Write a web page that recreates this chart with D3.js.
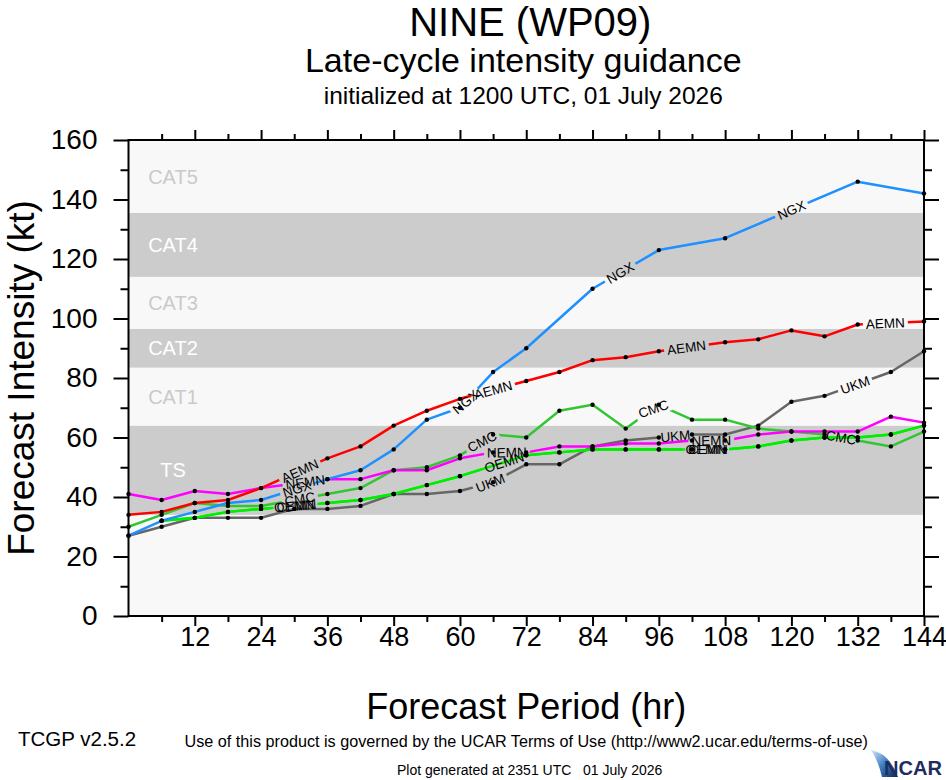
<!DOCTYPE html>
<html>
<head>
<meta charset="utf-8">
<script src="https://cdn.jsdelivr.net/npm/d3@7"></script>
<style>
  body { margin: 0; background: #fff; }
  text { font-family: "Liberation Sans", Arial, Helvetica, sans-serif; }
</style>
</head>
<body>
<script>
var width = 946,
    height = 780;

// forecast hours and model intensities (kt); null = no point at that hour
var hours = [0,6,12,18,24,30,36,42,48,54,60,66,72,78,84,90,96,102,108,114,120,126,132,138,144];

var ukm  = [27,30,33,33,33,36,36,37,41,41,42,45,51,51,57,59,60,61,61,64,72,74,null,82,89];
var cmc  = [30,34,38,37,37,null,41,43,49,50,54,61,60,69,71,63,71,66,66,63,62,61,59,57,62];
var cemn = [null,32,33,35,36,null,38,39,41,44,47,null,54,55,56,56,56,56,56,57,59,60,60,61,64];
var oemn = [null,32,33,35,36,null,38,39,41,44,47,null,54,55,56,56,56,56,56,57,59,60,60,61,64];
var nemn = [41,39,42,41,43,null,46,46,49,49,53,55,55,57,57,58,58,59,59,61,62,62,62,67,65];
var aemn = [34,35,38,39,43,null,53,57,64,69,73,null,79,82,86,87,89,null,92,93,96,94,98,null,99];
var ngx  = [27,32,35,38,39,null,46,49,56,66,70,82,90,null,110,null,123,null,127,null,null,null,146,null,142];

var modelNames  = ["UKM","CMC","CEMN","OEMN","NEMN","AEMN","NGX"];
var modelValues = [ukm, cmc, cemn, oemn, nemn, aemn, ngx];
var modelColors = ["#666666","#33c633","#00ee00","#00ee00","#ff00ff","#ff0000","#1e90ff"];
// hours where the in-line model labels sit
var labelHours  = [[65.5,99,131.5],[31,64,95,129],[30.4,104.9],[30,68,104.5],[32,68.5,105.5],[31,66,101,137],[30.5,61,89,120]];

// intensity categories
var bandNames = ["TS","CAT1","CAT2","CAT3","CAT4","CAT5"];
var bandLow   = [34, 64, 83.5, 96.5, 114, 135.5];
var bandHigh  = [64, 83.5, 96.5, 114, 135.5, 160];

var yMajor = [0,20,40,60,80,100,120,140,160],
    yMinor = [10,30,50,70,90,110,130,150],
    xMajor = [12,24,36,48,60,72,84,96,108,120,132,144],
    xMinor = [6,18,30,42,54,66,78,90,102,114,126,138];

var x = d3.scaleLinear().domain([0,144]).range([128.5, 924]);
var y = d3.scaleLinear().domain([0,160]).range([616, 140]);

var svg = d3.select("body").append("svg")
    .attr("width", width)
    .attr("height", height);

// background + category bands
svg.append("rect")
    .attr("x", x(0)).attr("y", y(160))
    .attr("width", x(144) - x(0)).attr("height", y(0) - y(160))
    .attr("fill", "#f8f8f8");

bandNames.forEach(function(name, i) {
  var grey = (i % 2 == 0);
  svg.append("rect")
      .attr("x", x(0)).attr("y", y(bandHigh[i]))
      .attr("width", x(144) - x(0))
      .attr("height", y(bandLow[i]) - y(bandHigh[i]))
      .attr("fill", grey ? "#cccccc" : "#f8f8f8");
  svg.append("text")
      .attr("x", 173)
      .attr("y", y((bandLow[i] + bandHigh[i]) / 2))
      .attr("dy", "0.36em")
      .attr("text-anchor", "middle")
      .attr("font-size", 20)
      .attr("fill", grey ? "#ffffff" : "#cacaca")
      .text(name);
});

// axes (outward ticks on all four sides)
function styleAxis(g, fs) {
  g.select(".domain").remove();
  g.selectAll(".tick line").attr("stroke", "#000").attr("stroke-width", 2);
  g.attr("font-size", fs).attr("font-family", "Liberation Sans, Arial, sans-serif");
  g.selectAll("text").attr("fill", "#000");
}

svg.append("g").attr("transform", "translate(" + x(0) + ",0)")
    .call(d3.axisLeft(y).tickValues(yMajor).tickSize(15).tickPadding(16).tickFormat(d3.format("d")))
    .call(styleAxis, 28);
svg.append("g").attr("transform", "translate(" + x(0) + ",0)")
    .call(d3.axisLeft(y).tickValues(yMinor).tickSize(8).tickFormat(""))
    .call(styleAxis, 10);
svg.append("g").attr("transform", "translate(" + x(144) + ",0)")
    .call(d3.axisRight(y).tickValues(yMajor).tickSize(15).tickFormat(""))
    .call(styleAxis, 10);
svg.append("g").attr("transform", "translate(" + x(144) + ",0)")
    .call(d3.axisRight(y).tickValues(yMinor).tickSize(8).tickFormat(""))
    .call(styleAxis, 10);

svg.append("g").attr("transform", "translate(0," + y(0) + ")")
    .call(d3.axisBottom(x).tickValues(xMajor).tickSize(10).tickPadding(1).tickFormat(d3.format("d")))
    .call(styleAxis, 27);
svg.append("g").attr("transform", "translate(0," + y(0) + ")")
    .call(d3.axisBottom(x).tickValues(xMinor).tickSize(6).tickFormat(""))
    .call(styleAxis, 10);
svg.append("g").attr("transform", "translate(0," + y(160) + ")")
    .call(d3.axisTop(x).tickValues(xMajor).tickSize(10).tickFormat(""))
    .call(styleAxis, 10);
svg.append("g").attr("transform", "translate(0," + y(160) + ")")
    .call(d3.axisTop(x).tickValues(xMinor).tickSize(6).tickFormat(""))
    .call(styleAxis, 10);

// model lines
var line = d3.line()
    .x(function(d) { return x(d[0]); })
    .y(function(d) { return y(d[1]); });

function pointsOf(vals) {
  var pts = [];
  vals.forEach(function(v, i) { if (v != null) pts.push([hours[i], v]); });
  return pts;
}

// pixel position along a series at hour h
function along(pts, h) {
  h = Math.max(pts[0][0], Math.min(pts[pts.length - 1][0], h));
  for (var i = 0; i < pts.length - 1; i++) {
    if (h <= pts[i + 1][0]) {
      var t = (h - pts[i][0]) / (pts[i + 1][0] - pts[i][0]);
      var v = pts[i][1] + t * (pts[i + 1][1] - pts[i][1]);
      return [x(h), y(v)];
    }
  }
  return [x(pts[pts.length - 1][0]), y(pts[pts.length - 1][1])];
}

var defs = svg.append("defs");
var measure = svg.append("text").attr("font-size", 13.5).attr("opacity", 0);

var labelLayer = [], dotLayer = [];

modelNames.forEach(function(name, m) {
  var pts = pointsOf(modelValues[m]);
  measure.text(name);
  var tw = measure.node().getComputedTextLength();

  var mask = defs.append("mask")
      .attr("id", "gap" + m)
      .attr("maskUnits", "userSpaceOnUse")
      .attr("x", 0).attr("y", 0).attr("width", width).attr("height", height);
  mask.append("rect").attr("width", width).attr("height", height).attr("fill", "#fff");

  labelHours[m].forEach(function(h) {
    var p = along(pts, h),
        a = along(pts, h - 3),
        b = along(pts, h + 3);
    var ang = Math.atan2(b[1] - a[1], b[0] - a[0]) * 180 / Math.PI;
    var tr = "translate(" + p[0] + "," + p[1] + ") rotate(" + ang + ")";
    mask.append("rect")
        .attr("transform", tr)
        .attr("x", -tw / 2 - 3).attr("y", -7)
        .attr("width", tw + 6).attr("height", 14)
        .attr("fill", "#000");
    labelLayer.push({name: name, tr: tr});
  });

  svg.append("path")
      .datum(pts)
      .attr("fill", "none")
      .attr("stroke", modelColors[m])
      .attr("stroke-width", 2.5)
      .attr("stroke-linejoin", "round")
      .attr("mask", "url(#gap" + m + ")")
      .attr("d", line);

  pts.forEach(function(d) { dotLayer.push(d); });
});
measure.remove();

svg.append("g").selectAll("text")
    .data(labelLayer)
    .enter().append("text")
    .attr("transform", function(d) { return d.tr; })
    .attr("text-anchor", "middle")
    .attr("dy", "0.36em")
    .attr("font-size", 13.5)
    .attr("fill", "#000")
    .text(function(d) { return d.name; });

svg.append("g").selectAll("circle")
    .data(dotLayer)
    .enter().append("circle")
    .attr("cx", function(d) { return x(d[0]); })
    .attr("cy", function(d) { return y(d[1]); })
    .attr("r", 2.2)
    .attr("fill", "#000");

// frame
svg.append("rect")
    .attr("x", x(0)).attr("y", y(160))
    .attr("width", x(144) - x(0)).attr("height", y(0) - y(160))
    .attr("fill", "none")
    .attr("stroke", "#000")
    .attr("stroke-width", 2);

// titles
var cx = (x(0) + x(144)) / 2;
svg.append("text").attr("x", cx + 4).attr("y", 36).attr("text-anchor", "middle")
    .attr("font-size", 40).text("NINE (WP09)");
svg.append("text").attr("x", cx - 3).attr("y", 72).attr("text-anchor", "middle")
    .attr("font-size", 34).text("Late-cycle intensity guidance");
svg.append("text").attr("x", cx - 3).attr("y", 104).attr("text-anchor", "middle")
    .attr("font-size", 24.5).text("initialized at 1200 UTC, 01 July 2026");

svg.append("text")
    .attr("transform", "translate(34," + y(80) + ") rotate(-90)")
    .attr("text-anchor", "middle")
    .attr("font-size", 37)
    .text("Forecast Intensity (kt)");
svg.append("text").attr("x", cx).attr("y", 719).attr("text-anchor", "middle")
    .attr("font-size", 36).text("Forecast Period (hr)");

// footer
svg.append("text").attr("x", cx).attr("y", 747).attr("text-anchor", "middle")
    .attr("font-size", 16.2)
    .text("Use of this product is governed by the UCAR Terms of Use (http://www2.ucar.edu/terms-of-use)");
svg.append("text").attr("x", 18).attr("y", 746)
    .attr("font-size", 20.5).text("TCGP v2.5.2");
svg.append("text").attr("x", 397).attr("y", 775)
    .attr("font-size", 14).style("white-space", "pre")
    .text("Plot generated at 2351 UTC   01 July 2026");

// NCAR logo
var grad = defs.append("linearGradient").attr("id", "ncarGrad")
    .attr("x1", "0").attr("y1", "0").attr("x2", "1").attr("y2", "1");
grad.append("stop").attr("offset", "0").attr("stop-color", "#d8ecfa");
grad.append("stop").attr("offset", "0.5").attr("stop-color", "#3d7cc4");
grad.append("stop").attr("offset", "1").attr("stop-color", "#0c2458");
svg.append("path")
    .attr("d", "M871,750 Q889,753 898,777 L882,777 Q878,760 871,750 Z")
    .attr("fill", "url(#ncarGrad)");
svg.append("text").attr("x", 884).attr("y", 775)
    .attr("font-size", 21).attr("font-weight", "bold")
    .attr("textLength", 58).attr("lengthAdjust", "spacingAndGlyphs")
    .attr("fill", "#1c2d5e").text("NCAR");
</script>
</body>
</html>
